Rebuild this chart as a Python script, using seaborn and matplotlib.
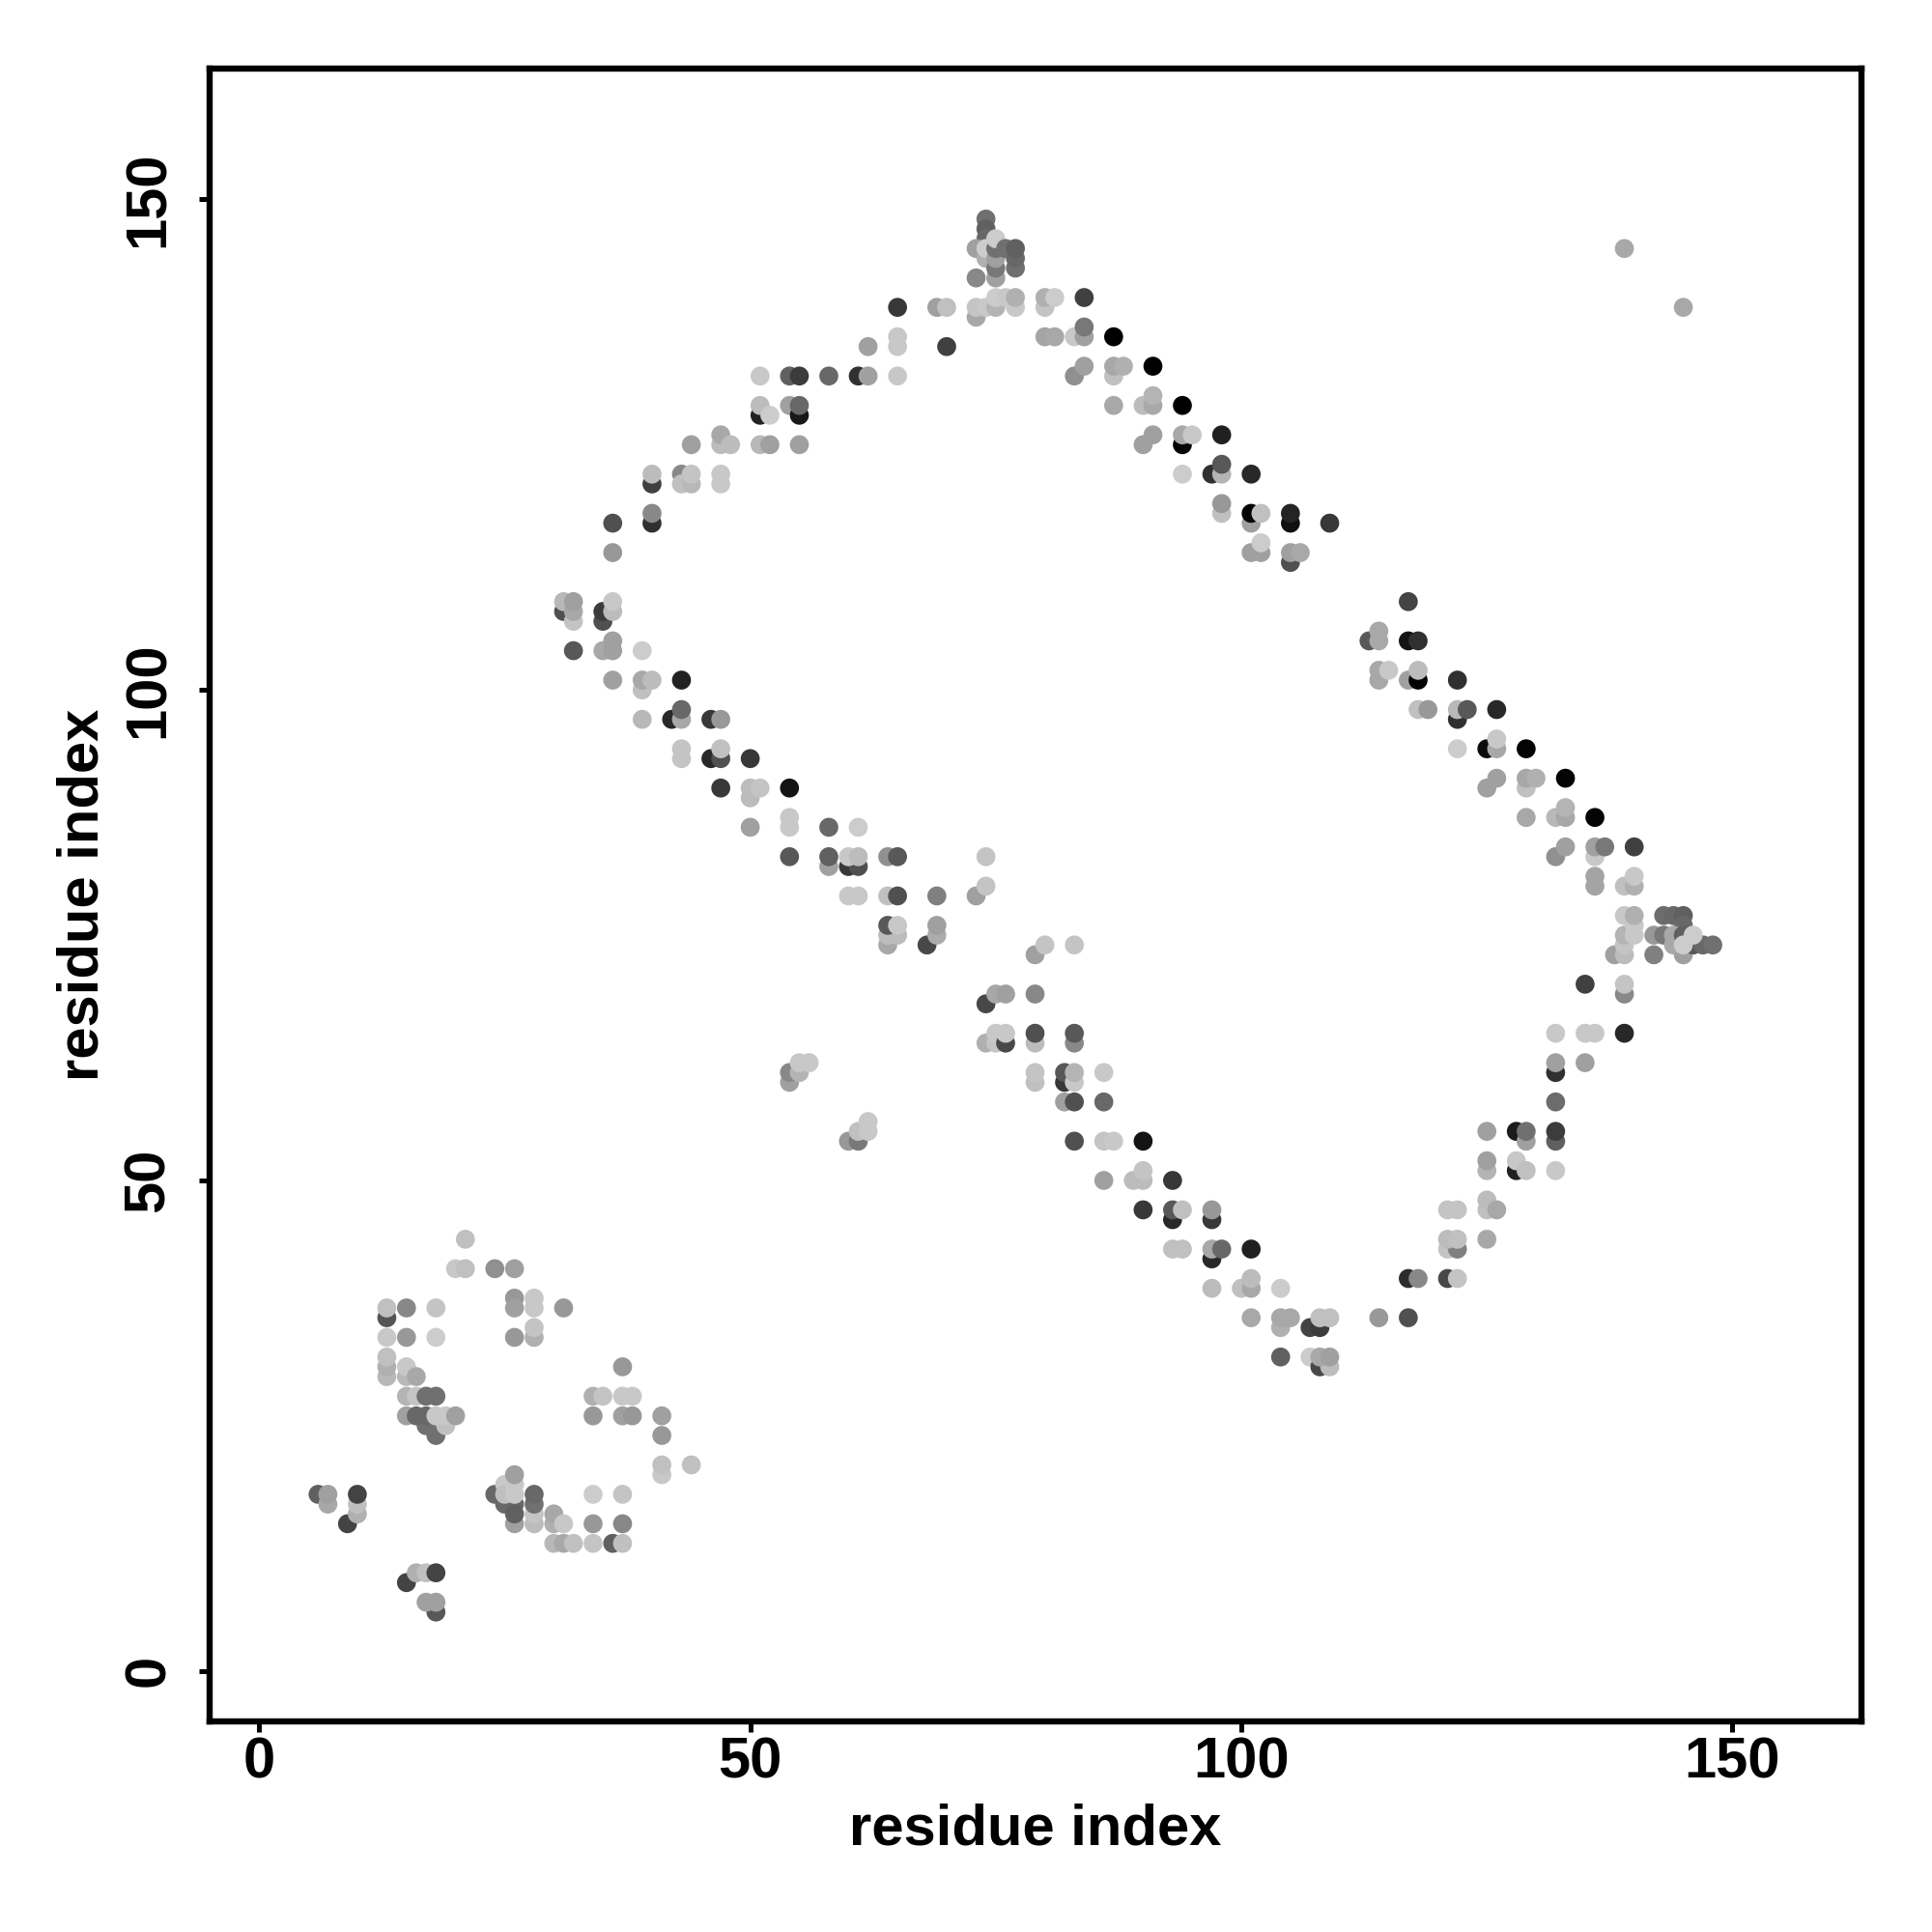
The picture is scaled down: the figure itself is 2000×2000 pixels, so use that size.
import matplotlib
matplotlib.use('Agg')
import matplotlib.pyplot as plt
import pandas as pd
import seaborn as sns

# contacts as (residue, residue, grey level), later rows are drawn on top
lower_cluster = [
    (21, 44, 0xc0), (20, 41, 0xc8), (21, 41, 0xc0), (24, 41, 0x90), (26, 41, 0xa0),
    (13, 36, 0x55), (13, 37, 0xc0), (15, 37, 0x88), (18, 37, 0xc4),
    (26, 38, 0x98), (26, 37, 0xa0), (28, 38, 0xc8), (28, 37, 0xc8), (31, 37, 0x98),
    (13, 34, 0xc8), (15, 34, 0x98), (18, 34, 0xcc), (26, 34, 0x98), (28, 34, 0xb0), (28, 35, 0xc4),
    (13, 30, 0xb8), (13, 31, 0xb0), (13, 32, 0xc0), (15, 30, 0xb8), (15, 31, 0xc8), (16, 30, 0xa8),
    (15, 28, 0xb4), (16, 28, 0xc4), (17, 28, 0x70), (18, 28, 0x70),
    (15, 26, 0xa0), (18, 24, 0x70), (17, 25, 0x70), (18, 25, 0x70), (16, 26, 0x68), (17, 26, 0x68),
    (19, 25, 0xc0), (18, 26, 0xc8), (19, 26, 0xc8), (20, 26, 0xa0),
    (37, 31, 0x98), (34, 28, 0xb0), (35, 28, 0xc4), (37, 28, 0xc8), (38, 28, 0xc8),
    (34, 26, 0x98), (37, 26, 0xa0), (38, 26, 0x98), (41, 26, 0xa0), (41, 24, 0x98),
    (41, 20, 0xc8), (41, 21, 0xc0), (44, 21, 0xc0),
    (26, 15, 0xa0), (24, 18, 0x68), (25, 17, 0x68), (26, 17, 0x68), (26, 16, 0x60),
    (25, 19, 0xc8), (25, 18, 0xc0), (26, 18, 0xc8), (26, 19, 0xc8), (26, 20, 0xa0),
    (28, 15, 0xbc), (28, 16, 0xc4), (28, 17, 0x70), (28, 18, 0x68),
    (30, 15, 0xb0), (30, 16, 0xa8), (31, 15, 0xc8),
    (34, 18, 0xcc), (37, 18, 0xc4), (34, 15, 0x98), (37, 15, 0x88),
    (30, 13, 0xb8), (31, 13, 0xa8), (32, 13, 0xc0), (34, 13, 0xc4), (36, 13, 0x60), (37, 13, 0xc0),
    (6, 18, 0x60), (7, 17, 0xa8), (7, 18, 0xa0), (9, 15, 0x44), (10, 16, 0xb0), (10, 17, 0xc0), (10, 18, 0x44),
    (15, 9, 0x44), (16, 10, 0xb0), (17, 10, 0xc0), (18, 10, 0x44),
    (18, 6, 0x58), (17, 7, 0xa0), (18, 7, 0xa0),
]

upper_left_arm = [
    (65, 136, 0xc8), (65, 135, 0xc8), (62, 135, 0xa0), (70, 135, 0x40), (65, 139, 0x38), (69, 139, 0xa0), (70, 139, 0xc0),
    (51, 132, 0xc8), (54, 132, 0x60), (55, 132, 0x3c), (58, 132, 0x68), (61, 132, 0x30), (62, 132, 0xa0), (65, 132, 0xc8),
    (51, 128, 0x22), (51, 129, 0xbc), (52, 128, 0xcc), (54, 129, 0xa0), (55, 128, 0x18), (55, 129, 0x68),
    (44, 125, 0xa0), (47, 125, 0xbc), (47, 126, 0xa8), (48, 125, 0xbc), (51, 125, 0xb8), (52, 125, 0xa0), (55, 125, 0xa0),
    (40, 121, 0x40), (40, 122, 0xbc), (43, 122, 0x88), (43, 121, 0xc0), (44, 121, 0xb8), (44, 122, 0xc4), (47, 122, 0xc8), (47, 121, 0xc8),
    (36, 117, 0x50), (40, 117, 0x30), (40, 118, 0x88), (36, 114, 0x98),
    (31, 108, 0x50), (31, 109, 0xb8), (32, 107, 0xc4), (32, 108, 0xa8), (32, 109, 0xa0),
    (35, 107, 0x50), (35, 108, 0x3c), (36, 108, 0xbc), (36, 109, 0xc8),
    (32, 104, 0x58), (35, 104, 0xa8), (36, 105, 0xa0), (36, 104, 0xa0), (39, 104, 0xcc),
]

middle_arm = [
    (36, 101, 0xa0), (39, 100, 0xc0), (39, 101, 0xa8), (40, 101, 0xbc), (43, 101, 0x22),
    (39, 97, 0xb8), (42, 97, 0x28), (43, 97, 0xa8), (43, 98, 0x68), (46, 97, 0x38), (47, 97, 0x98),
    (43, 93, 0xc4), (43, 94, 0xc4), (46, 93, 0x28), (47, 93, 0x50), (47, 94, 0xc0), (50, 93, 0x38),
    (47, 90, 0x38), (50, 89, 0xbc), (50, 90, 0xbc), (51, 90, 0xc4), (54, 90, 0x14),
    (50, 86, 0xa0), (54, 87, 0xc8), (54, 86, 0xc8), (58, 86, 0x68), (61, 86, 0xcc),
    (54, 83, 0x58), (58, 82, 0xa0), (58, 83, 0x60), (60, 82, 0x38), (61, 82, 0x50), (60, 83, 0xc8), (61, 83, 0xbc),
    (64, 83, 0x90), (65, 83, 0x58), (74, 83, 0xc4),
    (60, 79, 0xc8), (61, 79, 0xc8), (64, 79, 0xc0), (65, 79, 0x50), (69, 79, 0x80), (73, 79, 0xa0), (74, 80, 0xc4),
    (64, 74, 0xa8), (64, 75, 0xbc), (65, 75, 0xbc), (64, 76, 0x58), (65, 76, 0xc8),
    (68, 74, 0x48), (69, 75, 0xac), (69, 76, 0xa0),
    (79, 73, 0xa0), (80, 74, 0xc4), (83, 74, 0xc4),
    (74, 68, 0x48), (75, 69, 0xa8), (76, 69, 0xa0), (79, 69, 0x88),
    (74, 64, 0xb0), (75, 64, 0xc4), (75, 65, 0xc8), (76, 64, 0x48), (76, 65, 0xc8),
    (79, 64, 0xbc), (79, 65, 0x50), (83, 64, 0x88), (83, 65, 0x58),
    (79, 60, 0xc0), (79, 61, 0xc4), (82, 60, 0x38), (82, 61, 0x58), (83, 60, 0xc8), (83, 61, 0xb4), (86, 61, 0xc8),
    (82, 58, 0xa0), (83, 58, 0x50), (86, 58, 0x68),
    (83, 54, 0x50), (86, 54, 0xc4), (87, 54, 0xc8), (90, 54, 0x14),
    (54, 60, 0xa0), (54, 61, 0x88), (55, 61, 0xb4), (55, 62, 0xc8), (56, 62, 0xc8),
    (60, 54, 0x98), (61, 54, 0x78), (61, 55, 0xc0), (62, 55, 0xc8), (62, 56, 0xc8),
]

lower_arm = [
    (86, 50, 0xa0), (89, 50, 0xbc), (90, 50, 0xbc), (90, 51, 0xc4), (93, 50, 0x38),
    (90, 47, 0x38), (93, 46, 0x28), (93, 47, 0x58), (94, 47, 0xc0), (97, 46, 0x38), (97, 47, 0x98),
    (93, 43, 0xc0), (94, 43, 0xc0), (97, 42, 0x28), (97, 43, 0xa8), (98, 43, 0x68), (101, 43, 0x20),
    (97, 39, 0xbc), (100, 39, 0xc0), (101, 39, 0xa8), (101, 40, 0xbc), (104, 39, 0xcc),
    (101, 36, 0xa8), (104, 35, 0xb0), (104, 36, 0xa8), (105, 36, 0xa8),
    (107, 35, 0x44), (108, 35, 0x3c), (108, 36, 0xc0), (109, 36, 0xc0), (114, 36, 0x98), (117, 36, 0x50),
    (104, 32, 0x60), (107, 32, 0xcc), (108, 31, 0x48), (109, 31, 0xbc), (108, 32, 0xa8), (109, 32, 0xa0),
]

right_arm = [
    (117, 40, 0x2c), (118, 40, 0x88), (121, 40, 0x48), (122, 40, 0xc4),
    (121, 43, 0xc4), (122, 43, 0x80), (121, 44, 0xbc), (122, 44, 0xc0), (125, 44, 0xa8),
    (121, 47, 0xc4), (122, 47, 0xc4), (125, 47, 0xc0), (125, 48, 0xbc), (126, 47, 0xa8),
    (125, 51, 0xb4), (125, 52, 0xa0), (128, 51, 0x20), (128, 52, 0xc8), (129, 51, 0xc0), (132, 51, 0xc8),
    (125, 55, 0xa0), (128, 55, 0x1c), (129, 54, 0xa0), (129, 55, 0x70), (132, 54, 0x60), (132, 55, 0x3c),
    (132, 58, 0x6c), (132, 61, 0x30), (132, 62, 0xa0), (135, 62, 0xa0),
    (132, 65, 0xc8), (135, 65, 0xc8), (136, 65, 0xc8), (139, 65, 0x28),
    (135, 70, 0x40), (139, 69, 0x88), (139, 70, 0xc4),
]

right_tip = [
    (138, 73, 0xa0), (139, 73, 0xbc), (139, 74, 0xc4), (139, 75, 0xb4), (142, 73, 0x80),
    (140, 75, 0xc8), (140, 76, 0xc8), (139, 77, 0xc8), (140, 77, 0xb0),
    (142, 75, 0x98), (143, 75, 0x78), (143, 77, 0x6c), (144, 77, 0x68), (145, 77, 0x60), (145, 76, 0x68),
    (145, 73, 0xa0), (144, 75, 0xa8), (144, 74, 0xa8), (145, 75, 0x60), (146, 74, 0x58), (145, 74, 0xcc),
    (147, 74, 0x68), (148, 74, 0x70), (146, 75, 0xcc),
    (136, 80, 0xa4), (136, 81, 0xa4), (139, 80, 0xc0), (140, 80, 0xb0), (140, 81, 0xc8),
]

upper_right_arm = [
    (74, 148, 0x70), (74, 147, 0x60), (74, 146, 0x68), (73, 145, 0xa0), (74, 144, 0xb0), (74, 145, 0xcc),
    (75, 142, 0xa0), (75, 143, 0x78), (75, 144, 0xa0), (75, 145, 0x70), (75, 146, 0xcc),
    (73, 142, 0x88), (76, 145, 0x70), (77, 143, 0x70), (77, 144, 0x68), (77, 145, 0x60),
    (73, 138, 0xa8), (73, 139, 0xc4), (74, 139, 0xc8), (75, 139, 0xb4), (75, 140, 0xcc), (76, 140, 0xc8),
    (77, 139, 0xc8), (77, 140, 0xb0), (80, 139, 0xc4), (80, 140, 0xb0), (81, 140, 0xcc), (84, 140, 0x40),
    (80, 136, 0xa4), (81, 136, 0xa8), (83, 136, 0xc8), (84, 136, 0xa0), (84, 137, 0x78), (87, 136, 0x00),
    (83, 132, 0x90), (84, 133, 0xa0), (87, 132, 0xc0), (87, 133, 0xa8), (88, 133, 0xb0), (91, 133, 0x00),
    (87, 129, 0xa8), (90, 129, 0xbc), (91, 129, 0xa8), (91, 130, 0xb4), (94, 129, 0x00),
    (90, 125, 0xa0), (91, 126, 0xa0), (94, 125, 0x04), (94, 126, 0xa8), (95, 126, 0xc8), (98, 126, 0x20),
    (94, 122, 0xcc), (97, 122, 0x30), (98, 122, 0xb4), (98, 123, 0x58), (101, 122, 0x28),
    (98, 118, 0xc0), (98, 119, 0x98), (101, 117, 0xa0), (101, 118, 0x04), (102, 118, 0xc0),
    (105, 117, 0x10), (105, 118, 0x24), (109, 117, 0x38),
    (105, 113, 0x50), (101, 114, 0xa0), (102, 114, 0xa0), (102, 115, 0xcc), (105, 114, 0xa0), (106, 114, 0xa8),
    (117, 109, 0x44), (113, 105, 0x58), (114, 105, 0xa8), (114, 106, 0xa8), (117, 105, 0x14), (118, 105, 0x30),
    (114, 101, 0xa8), (114, 102, 0xa8), (115, 102, 0xc8), (117, 101, 0xa0), (118, 101, 0x04), (118, 102, 0xbc), (122, 101, 0x30),
    (118, 98, 0xc0), (119, 98, 0x98), (122, 97, 0x30), (122, 98, 0xb8), (123, 98, 0x58), (126, 98, 0x28),
    (122, 94, 0xcc), (125, 94, 0x0c), (126, 94, 0xa8), (126, 95, 0xc8), (129, 94, 0x04),
    (125, 90, 0xa0), (126, 91, 0xa0), (129, 90, 0xc0), (129, 91, 0xa8), (130, 91, 0xb0), (133, 91, 0x04),
    (129, 87, 0xa8), (132, 87, 0xb8), (133, 87, 0xa8), (133, 88, 0xb4), (136, 87, 0x04),
    (132, 83, 0x90), (133, 84, 0xa0), (136, 83, 0xc8), (136, 84, 0xa0), (137, 84, 0x78), (140, 84, 0x40),
]

isolated = [(139, 145, 0xa8), (145, 139, 0xa8)]

tick_values = [0, 50, 100, 150]

rows = lower_cluster + upper_left_arm + middle_arm + lower_arm + right_arm + right_tip + upper_right_arm + isolated
df = pd.DataFrame(rows, columns=['res_i', 'res_j', 'level'])
df['shade'] = df['level'].map(lambda v: '#{0:02x}{0:02x}{0:02x}'.format(v))

sns.set_style('white')
plt.rcParams['font.family'] = ['Liberation Sans', 'DejaVu Sans']

fig = plt.figure(figsize=(10, 10), dpi=200)
ax = fig.add_axes([0.1084, 0.1090, 0.8551, 0.8553])

sns.scatterplot(data=df, x='res_i', y='res_j', hue='shade',
                palette={s: s for s in df['shade'].unique()},
                s=50, linewidth=0, legend=False, ax=ax)

ax.set_xlim(-5.06, 163.14)
ax.set_ylim(-5.15, 163.3)
ax.set_xticks(tick_values)
ax.set_yticks(tick_values)
ax.tick_params(axis='both', direction='out', length=4, width=1.8, color='black',
               labelcolor='black', labelsize=21.5, bottom=True, left=True)
ax.tick_params(axis='x', pad=1.5)
ax.tick_params(axis='y', pad=8.5)
for lab in ax.get_xticklabels() + ax.get_yticklabels():
    lab.set_fontweight('bold')
for lab in ax.get_yticklabels():
    lab.set_rotation(90)
    lab.set_va('center')
ax.set_xlabel('residue index', fontsize=21.5, fontweight='bold', color='black', labelpad=5)
ax.set_ylabel('residue index', fontsize=21.5, fontweight='bold', color='black', labelpad=5)
for side in ax.spines.values():
    side.set_visible(True)
    side.set_color('black')
    side.set_linewidth(2.3)

plt.savefig('out.png', dpi=200, facecolor='white')
plt.close()
